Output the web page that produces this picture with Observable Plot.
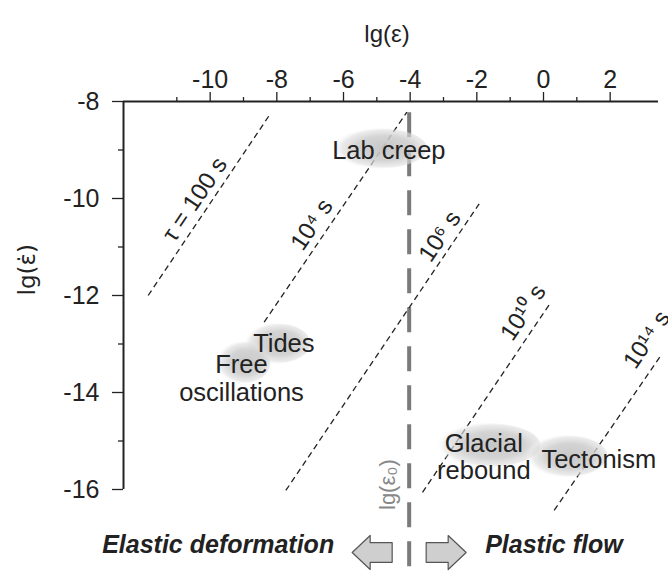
<!DOCTYPE html>
<html>
<head>
<meta charset="utf-8">
<script src="https://cdn.jsdelivr.net/npm/d3@7"></script>
<script src="https://cdn.jsdelivr.net/npm/@observablehq/plot@0.6"></script>
<style>
  html, body { margin: 0; padding: 0; background: #fff; }
</style>
</head>
<body>
<div id="chart"></div>
<script>
// Axis ticks
const xTicks = [-10, -8, -6, -4, -2, 0, 2];
const xMinorTicks = [-11, -9, -7, -5, -3, -1, 1];
const yTicks = [-8, -10, -12, -14, -16];
const yMinorTicks = [-9, -11, -13, -15];
const xDomain = [-12.6, 3.45];
const yDomain = [-16, -8];

// Relaxation-time lines (lg ε, lg ε̇ endpoints)
const tauNames = ["τ = 100 s", "10⁴ s", "10⁶ s", "10¹⁰ s", "10¹⁴ s"];
const tauStartX = [-11.86, -8.38, -7.73, -3.63, 0.32];
const tauStartY = [-12.0, -12.55, -16.02, -16.06, -16.43];
const tauEndX = [-8.23, -4.10, -1.93, 0.22, 3.54];
const tauEndY = [-8.29, -8.22, -10.11, -12.14, -13.22];
const tauLabelX = [-10.46, -6.95, -3.11, -0.61, 3.10];
const tauLabelY = [-10.02, -10.54, -10.78, -12.35, -12.91];

// Phenomena regions (ranges of lg ε and lg ε̇)
const blobNames = ["Lab creep", "Tides", "Free oscillations", "Glacial rebound", "Tectonism"];
const blobX1 = [-6.33, -8.99, -9.83, -3.23, -0.53];
const blobX2 = [-3.48, -6.98, -8.18, -0.08, 1.93];
const blobY1 = [-9.39, -13.41, -13.82, -15.55, -15.75];
const blobY2 = [-8.56, -12.58, -12.96, -14.64, -14.89];
const regionLabels = ["Lab creep", "Tides", "Free\noscillations", "Glacial\nrebound", "Tectonism"];
const regionLabelX = [-4.64, -7.79, -9.06, -1.79, 1.66];
const regionLabelY = [-9.01, -12.99, -13.71, -15.32, -15.38];

// Critical strain
const eps0 = -4.03;
const eps0Label = "lg(ε₀)";
const eps0LabelX = -4.68;
const eps0LabelY = -15.9;

const tauIdx = d3.range(tauNames.length);
const blobIdx = d3.range(blobNames.length);
const regIdx = d3.range(regionLabels.length);

const defs = () => {
  const d = d3.create("svg:defs");
  const g = d.append("radialGradient").attr("id", "blob").attr("cx", "55%").attr("cy", "50%").attr("r", "55%");
  g.append("stop").attr("offset", "0%").attr("stop-color", "#c4c4c4").attr("stop-opacity", 0.95);
  g.append("stop").attr("offset", "55%").attr("stop-color", "#cccccc").attr("stop-opacity", 0.85);
  g.append("stop").attr("offset", "82%").attr("stop-color", "#dddddd").attr("stop-opacity", 0.6);
  g.append("stop").attr("offset", "100%").attr("stop-color", "#ffffff").attr("stop-opacity", 0);
  return d.node();
};

// Block arrow shape (pointing "up" before rotation)
const blockArrow = {
  draw(ctx, l, r) {
    const sw = r * 0.58, hl = l * 0.45;
    ctx.moveTo(-sw, 0);
    ctx.lineTo(-sw, -l + hl);
    ctx.lineTo(-r, -l + hl);
    ctx.lineTo(0, -l);
    ctx.lineTo(r, -l + hl);
    ctx.lineTo(sw, -l + hl);
    ctx.lineTo(sw, 0);
    ctx.closePath();
  }
};

const fmt = d => String(d);
const none = () => "";

const chart = Plot.plot({
  width: 668,
  height: 577,
  marginTop: 101,
  marginBottom: 88,
  marginLeft: 123,
  marginRight: 10,
  x: {domain: xDomain},
  y: {domain: yDomain},
  style: {
    fontFamily: "'Liberation Sans', Arial, sans-serif",
    fontSize: "25px",
    color: "#222",
    background: "#fff",
    overflow: "visible"
  },
  marks: [
    defs,
    // lg(eps0) vertical dashed line
    Plot.ruleX([eps0], {y1: -8.23, y2: -17.8, stroke: "#7a7a7a", strokeWidth: 4, strokeDasharray: "25,14"}),
    // relaxation time lines
    Plot.link(tauIdx, {
      x1: i => tauStartX[i], y1: i => tauStartY[i],
      x2: i => tauEndX[i], y2: i => tauEndY[i],
      stroke: "#222", strokeWidth: 1.3, strokeDasharray: "6,4"
    }),
    // region blobs
    Plot.rect(blobIdx, {
      x1: i => blobX1[i], x2: i => blobX2[i],
      y1: i => blobY1[i], y2: i => blobY2[i],
      rx: 999, ry: 999, fill: "url(#blob)"
    }),
    // axes
    Plot.ruleY([yDomain[1]], {stroke: "#222", strokeWidth: 2}),
    Plot.ruleX([xDomain[0]], {y1: yDomain[0], y2: yDomain[1], stroke: "#222", strokeWidth: 2}),
    Plot.axisX(xTicks, {anchor: "top", tickSize: 10, strokeWidth: 1.3, label: null, tickFormat: none}),
    Plot.axisX(xMinorTicks, {anchor: "top", tickSize: 5, strokeWidth: 1.3, tickFormat: none, label: null}),
    Plot.axisY(yTicks, {anchor: "left", tickSize: 11, strokeWidth: 1.3, label: null, tickFormat: none}),
    Plot.axisY(yMinorTicks, {anchor: "left", tickSize: 5, strokeWidth: 1.3, tickFormat: none, label: null}),
    // tick labels
    Plot.text(xTicks, {x: d => d, frameAnchor: "top", dy: -31, text: fmt, fontSize: 25, fill: "#222"}),
    Plot.text(yTicks, {y: d => d, frameAnchor: "left", dx: -24, text: fmt, textAnchor: "end", fontSize: 25, fill: "#222"}),
    // axis titles
    Plot.text(["lg(ε)"], {frameAnchor: "top", dx: -4, dy: -77, fontSize: 24, fill: "#222"}),
    Plot.text(["lg(ε̇)"], {frameAnchor: "left", dx: -96, rotate: -90, fontSize: 23, fill: "#222", fontFamily: "'DejaVu Sans', sans-serif"}),
    // tau labels
    Plot.text(tauIdx, {
      x: i => tauLabelX[i], y: i => tauLabelY[i], text: i => tauNames[i],
      rotate: -56, fontSize: 24, fill: "#222"
    }),
    // region labels
    Plot.text(regIdx, {
      x: i => regionLabelX[i], y: i => regionLabelY[i], text: i => regionLabels[i],
      fontSize: 25.5, lineHeight: 1.08, fill: "#222"
    }),
    // eps0 label
    Plot.text([eps0Label], {x: eps0LabelX, y: eps0LabelY, rotate: -90, fontSize: 22, fill: "#888"}),
    // bottom annotations
    Plot.text(["Elastic deformation"], {x: eps0, frameAnchor: "bottom", dy: 63, dx: -75, textAnchor: "end", fontSize: 25, fontWeight: "bold", fontStyle: "italic", fill: "#222"}),
    Plot.text(["Plastic flow"], {x: eps0, frameAnchor: "bottom", dy: 63, dx: 76, textAnchor: "start", fontSize: 25, fontWeight: "bold", fontStyle: "italic", fill: "#222"}),
    Plot.vector([eps0], {x: d => d, frameAnchor: "bottom", dy: 63, dx: -37, length: 40, r: 17, rotate: -90, anchor: "middle", shape: blockArrow, fill: "#cfcfcf", stroke: "#555", strokeWidth: 1.2}),
    Plot.vector([eps0], {x: d => d, frameAnchor: "bottom", dy: 63, dx: 37, length: 40, r: 17, rotate: 90, anchor: "middle", shape: blockArrow, fill: "#cfcfcf", stroke: "#555", strokeWidth: 1.2})
  ]
});
document.getElementById("chart").appendChild(chart);
</script>
</body>
</html>
